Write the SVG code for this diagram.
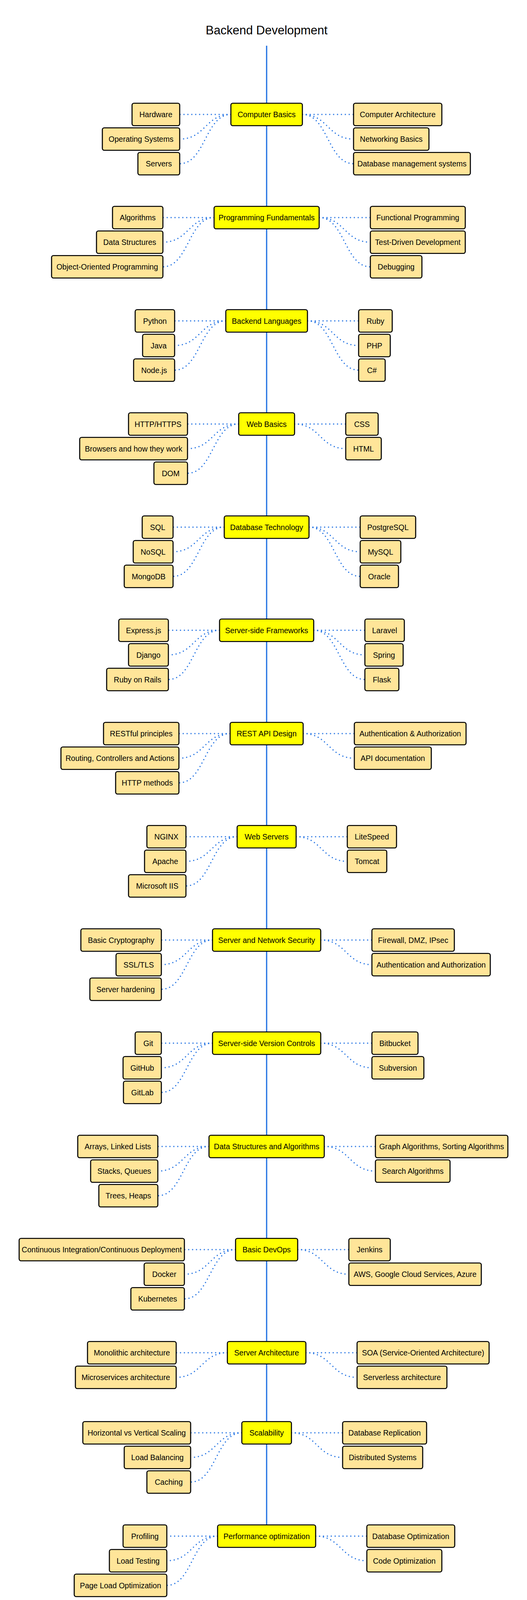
<svg xmlns="http://www.w3.org/2000/svg" width="1349" height="4130" viewBox="0 0 1349 4130">
<style>
text{font-family:"Liberation Sans",Arial,sans-serif;font-size:19.5px;fill:#000;text-anchor:middle}
.title{font-size:31px}
.m rect,.c rect{stroke:#000;stroke-width:2.7}
.m rect{fill:#ffff00}
.c rect{fill:#ffe599}
.bg{fill:#fff;stroke:none}
.dot{fill:none;stroke:#2b78e4;stroke-width:3.4;stroke-dasharray:0 10;stroke-linecap:round}
.spine{fill:none;stroke:#2b78e4;stroke-width:3.3}
</style>
<rect class="bg" width="1349" height="4130"/>
<text class="title" x="682.5" y="88">Backend Development</text>
<g id="connectors">
<path class="spine" d="M682.5 117V3904"/>
<!-- S1 -->
<path class="dot" d="M591 293H460"/>
<path class="dot" d="M591 293C525.5 293 525.5 356 460 356"/>
<path class="dot" d="M591 293C525.5 293 525.5 419 460 419"/>
<path class="dot" d="M774 293H905"/>
<path class="dot" d="M774 293C839.5 293 839.5 356 905 356"/>
<path class="dot" d="M774 293C839.5 293 839.5 419 905 419"/>
<!-- S2 -->
<path class="dot" d="M548 557H417"/>
<path class="dot" d="M548 557C482.5 557 482.5 620 417 620"/>
<path class="dot" d="M548 557C482.5 557 482.5 683 417 683"/>
<path class="dot" d="M817 557H948"/>
<path class="dot" d="M817 557C882.5 557 882.5 620 948 620"/>
<path class="dot" d="M817 557C882.5 557 882.5 683 948 683"/>
<!-- S3 -->
<path class="dot" d="M578 821.5H447"/>
<path class="dot" d="M578 821.5C512.5 821.5 512.5 884.5 447 884.5"/>
<path class="dot" d="M578 821.5C512.5 821.5 512.5 947.5 447 947.5"/>
<path class="dot" d="M787 821.5H918"/>
<path class="dot" d="M787 821.5C852.5 821.5 852.5 884.5 918 884.5"/>
<path class="dot" d="M787 821.5C852.5 821.5 852.5 947.5 918 947.5"/>
<!-- S4 -->
<path class="dot" d="M611 1085.5H480"/>
<path class="dot" d="M611 1085.5C545.5 1085.5 545.5 1148.5 480 1148.5"/>
<path class="dot" d="M611 1085.5C545.5 1085.5 545.5 1211.5 480 1211.5"/>
<path class="dot" d="M754 1085.5H885"/>
<path class="dot" d="M754 1085.5C819.5 1085.5 819.5 1148.5 885 1148.5"/>
<!-- S5 -->
<path class="dot" d="M574 1349.5H443"/>
<path class="dot" d="M574 1349.5C508.5 1349.5 508.5 1412.5 443 1412.5"/>
<path class="dot" d="M574 1349.5C508.5 1349.5 508.5 1475.5 443 1475.5"/>
<path class="dot" d="M791 1349.5H922"/>
<path class="dot" d="M791 1349.5C856.5 1349.5 856.5 1412.5 922 1412.5"/>
<path class="dot" d="M791 1349.5C856.5 1349.5 856.5 1475.5 922 1475.5"/>
<!-- S6 -->
<path class="dot" d="M562 1613.5H431"/>
<path class="dot" d="M562 1613.5C496.5 1613.5 496.5 1676.5 431 1676.5"/>
<path class="dot" d="M562 1613.5C496.5 1613.5 496.5 1739.5 431 1739.5"/>
<path class="dot" d="M803 1613.5H934"/>
<path class="dot" d="M803 1613.5C868.5 1613.5 868.5 1676.5 934 1676.5"/>
<path class="dot" d="M803 1613.5C868.5 1613.5 868.5 1739.5 934 1739.5"/>
<!-- S7 -->
<path class="dot" d="M589 1878H458"/>
<path class="dot" d="M589 1878C523.5 1878 523.5 1941 458 1941"/>
<path class="dot" d="M589 1878C523.5 1878 523.5 2004 458 2004"/>
<path class="dot" d="M776 1878H907"/>
<path class="dot" d="M776 1878C841.5 1878 841.5 1941 907 1941"/>
<!-- S8 -->
<path class="dot" d="M607 2142H476"/>
<path class="dot" d="M607 2142C541.5 2142 541.5 2205 476 2205"/>
<path class="dot" d="M607 2142C541.5 2142 541.5 2268 476 2268"/>
<path class="dot" d="M758 2142H889"/>
<path class="dot" d="M758 2142C823.5 2142 823.5 2205 889 2205"/>
<!-- S9 -->
<path class="dot" d="M544 2406.5H413"/>
<path class="dot" d="M544 2406.5C478.5 2406.5 478.5 2469.5 413 2469.5"/>
<path class="dot" d="M544 2406.5C478.5 2406.5 478.5 2532.5 413 2532.5"/>
<path class="dot" d="M821 2406.5H952"/>
<path class="dot" d="M821 2406.5C886.5 2406.5 886.5 2469.5 952 2469.5"/>
<!-- S10 -->
<path class="dot" d="M544 2670.5H413"/>
<path class="dot" d="M544 2670.5C478.5 2670.5 478.5 2733.5 413 2733.5"/>
<path class="dot" d="M544 2670.5C478.5 2670.5 478.5 2796.5 413 2796.5"/>
<path class="dot" d="M821 2670.5H952"/>
<path class="dot" d="M821 2670.5C886.5 2670.5 886.5 2733.5 952 2733.5"/>
<!-- S11 -->
<path class="dot" d="M535 2935H404"/>
<path class="dot" d="M535 2935C469.5 2935 469.5 2998 404 2998"/>
<path class="dot" d="M535 2935C469.5 2935 469.5 3061 404 3061"/>
<path class="dot" d="M830 2935H961"/>
<path class="dot" d="M830 2935C895.5 2935 895.5 2998 961 2998"/>
<!-- S12 -->
<path class="dot" d="M603 3199H472"/>
<path class="dot" d="M603 3199C537.5 3199 537.5 3262 472 3262"/>
<path class="dot" d="M603 3199C537.5 3199 537.5 3325 472 3325"/>
<path class="dot" d="M762 3199H893"/>
<path class="dot" d="M762 3199C827.5 3199 827.5 3262 893 3262"/>
<!-- S13 -->
<path class="dot" d="M582 3463H451"/>
<path class="dot" d="M582 3463C516.5 3463 516.5 3526 451 3526"/>
<path class="dot" d="M783 3463H914"/>
<path class="dot" d="M783 3463C848.5 3463 848.5 3526 914 3526"/>
<!-- S14 -->
<path class="dot" d="M619 3668H488"/>
<path class="dot" d="M619 3668C553.5 3668 553.5 3731 488 3731"/>
<path class="dot" d="M619 3668C553.5 3668 553.5 3794 488 3794"/>
<path class="dot" d="M746 3668H877"/>
<path class="dot" d="M746 3668C811.5 3668 811.5 3731 877 3731"/>
<!-- S15 -->
<path class="dot" d="M557 3932.5H427"/>
<path class="dot" d="M557 3932.5C492 3932.5 492 3995.5 427 3995.5"/>
<path class="dot" d="M557 3932.5C492 3932.5 492 4058.5 427 4058.5"/>
<path class="dot" d="M808 3932.5H939"/>
<path class="dot" d="M808 3932.5C873.5 3932.5 873.5 3995.5 939 3995.5"/>
</g>

<!-- Section 1 -->
<g id="computer-basics" class="m"><rect x="591" y="264.25" width="183" height="57.5" rx="5"/><text x="682.5" y="300">Computer Basics</text></g>
<g id="hardware" class="c"><rect x="338" y="264.25" width="122" height="57.5" rx="5"/><text x="399" y="300">Hardware</text></g>
<g id="operating-systems" class="c"><rect x="262" y="327.25" width="198" height="57.5" rx="5"/><text x="361" y="363">Operating Systems</text></g>
<g id="servers" class="c"><rect x="353" y="390.25" width="107" height="57.5" rx="5"/><text x="406.5" y="426">Servers</text></g>
<g id="computer-architecture" class="c"><rect x="905" y="264.25" width="226" height="57.5" rx="5"/><text x="1018" y="300">Computer Architecture</text></g>
<g id="networking-basics" class="c"><rect x="905" y="327.25" width="193" height="57.5" rx="5"/><text x="1001.5" y="363">Networking Basics</text></g>
<g id="database-management-systems" class="c"><rect x="905" y="390.25" width="299" height="57.5" rx="5"/><text x="1054.5" y="426">Database management systems</text></g>

<!-- Section 2 -->
<g id="programming-fundamentals" class="m"><rect x="548" y="528.25" width="269" height="57.5" rx="5"/><text x="682.5" y="564">Programming Fundamentals</text></g>
<g id="algorithms" class="c"><rect x="288" y="528.25" width="129" height="57.5" rx="5"/><text x="352.5" y="564">Algorithms</text></g>
<g id="data-structures" class="c"><rect x="247" y="591.25" width="170" height="57.5" rx="5"/><text x="332" y="627">Data Structures</text></g>
<g id="oop" class="c"><rect x="132" y="654.25" width="285" height="57.5" rx="5"/><text x="274.5" y="690">Object-Oriented Programming</text></g>
<g id="functional-programming" class="c"><rect x="948" y="528.25" width="243" height="57.5" rx="5"/><text x="1069.5" y="564">Functional Programming</text></g>
<g id="tdd" class="c"><rect x="948" y="591.25" width="243" height="57.5" rx="5"/><text x="1069.5" y="627">Test-Driven Development</text></g>
<g id="debugging" class="c"><rect x="948" y="654.25" width="132" height="57.5" rx="5"/><text x="1014" y="690">Debugging</text></g>

<!-- Section 3 -->
<g id="backend-languages" class="m"><rect x="578" y="792.75" width="209" height="57.5" rx="5"/><text x="682.5" y="828.5">Backend Languages</text></g>
<g id="python" class="c"><rect x="346" y="792.75" width="101" height="57.5" rx="5"/><text x="396.5" y="828.5">Python</text></g>
<g id="java" class="c"><rect x="365" y="855.75" width="82" height="57.5" rx="5"/><text x="406" y="891.5">Java</text></g>
<g id="nodejs" class="c"><rect x="342" y="918.75" width="105" height="57.5" rx="5"/><text x="394.5" y="954.5">Node.js</text></g>
<g id="ruby" class="c"><rect x="918" y="792.75" width="86" height="57.5" rx="5"/><text x="961" y="828.5">Ruby</text></g>
<g id="php" class="c"><rect x="918" y="855.75" width="81" height="57.5" rx="5"/><text x="958.5" y="891.5">PHP</text></g>
<g id="csharp" class="c"><rect x="918" y="918.75" width="68" height="57.5" rx="5"/><text x="952" y="954.5">C#</text></g>

<!-- Section 4 -->
<g id="web-basics" class="m"><rect x="611" y="1056.75" width="143" height="57.5" rx="5"/><text x="682.5" y="1092.5">Web Basics</text></g>
<g id="http-https" class="c"><rect x="329" y="1056.75" width="151" height="57.5" rx="5"/><text x="404.5" y="1092.5">HTTP/HTTPS</text></g>
<g id="browsers" class="c"><rect x="204" y="1119.75" width="276" height="57.5" rx="5"/><text x="342" y="1155.5">Browsers and how they work</text></g>
<g id="dom" class="c"><rect x="394" y="1182.75" width="86" height="57.5" rx="5"/><text x="437" y="1218.5">DOM</text></g>
<g id="css" class="c"><rect x="885" y="1056.75" width="83" height="57.5" rx="5"/><text x="926.5" y="1092.5">CSS</text></g>
<g id="html" class="c"><rect x="885" y="1119.75" width="91" height="57.5" rx="5"/><text x="930.5" y="1155.5">HTML</text></g>

<!-- Section 5 -->
<g id="database-technology" class="m"><rect x="574" y="1320.75" width="217" height="57.5" rx="5"/><text x="682.5" y="1356.5">Database Technology</text></g>
<g id="sql" class="c"><rect x="364" y="1320.75" width="79" height="57.5" rx="5"/><text x="403.5" y="1356.5">SQL</text></g>
<g id="nosql" class="c"><rect x="341" y="1383.75" width="102" height="57.5" rx="5"/><text x="392" y="1419.5">NoSQL</text></g>
<g id="mongodb" class="c"><rect x="318" y="1446.75" width="125" height="57.5" rx="5"/><text x="380.5" y="1482.5">MongoDB</text></g>
<g id="postgresql" class="c"><rect x="922" y="1320.75" width="142" height="57.5" rx="5"/><text x="993" y="1356.5">PostgreSQL</text></g>
<g id="mysql" class="c"><rect x="922" y="1383.75" width="104" height="57.5" rx="5"/><text x="974" y="1419.5">MySQL</text></g>
<g id="oracle" class="c"><rect x="922" y="1446.75" width="98" height="57.5" rx="5"/><text x="971" y="1482.5">Oracle</text></g>

<!-- Section 6 -->
<g id="server-side-frameworks" class="m"><rect x="562" y="1584.75" width="241" height="57.5" rx="5"/><text x="682.5" y="1620.5">Server-side Frameworks</text></g>
<g id="expressjs" class="c"><rect x="304" y="1584.75" width="127" height="57.5" rx="5"/><text x="367.5" y="1620.5">Express.js</text></g>
<g id="django" class="c"><rect x="329" y="1647.75" width="102" height="57.5" rx="5"/><text x="380" y="1683.5">Django</text></g>
<g id="ruby-on-rails" class="c"><rect x="273" y="1710.75" width="158" height="57.5" rx="5"/><text x="352" y="1746.5">Ruby on Rails</text></g>
<g id="laravel" class="c"><rect x="934" y="1584.75" width="101" height="57.5" rx="5"/><text x="984.5" y="1620.5">Laravel</text></g>
<g id="spring" class="c"><rect x="934" y="1647.75" width="98" height="57.5" rx="5"/><text x="983" y="1683.5">Spring</text></g>
<g id="flask" class="c"><rect x="934" y="1710.75" width="87" height="57.5" rx="5"/><text x="977.5" y="1746.5">Flask</text></g>

<!-- Section 7 -->
<g id="rest-api-design" class="m"><rect x="589" y="1849.25" width="187" height="57.5" rx="5"/><text x="682.5" y="1885">REST API Design</text></g>
<g id="restful-principles" class="c"><rect x="265" y="1849.25" width="193" height="57.5" rx="5"/><text x="361.5" y="1885">RESTful principles</text></g>
<g id="routing" class="c"><rect x="156" y="1912.25" width="302" height="57.5" rx="5"/><text x="307" y="1948">Routing, Controllers and Actions</text></g>
<g id="http-methods" class="c"><rect x="296" y="1975.25" width="162" height="57.5" rx="5"/><text x="377" y="2011">HTTP methods</text></g>
<g id="auth-and-auth" class="c"><rect x="907" y="1849.25" width="286" height="57.5" rx="5"/><text x="1050" y="1885">Authentication &amp; Authorization</text></g>
<g id="api-documentation" class="c"><rect x="907" y="1912.25" width="197" height="57.5" rx="5"/><text x="1005.5" y="1948">API documentation</text></g>

<!-- Section 8 -->
<g id="web-servers" class="m"><rect x="607" y="2113.25" width="151" height="57.5" rx="5"/><text x="682.5" y="2149">Web Servers</text></g>
<g id="nginx" class="c"><rect x="376" y="2113.25" width="100" height="57.5" rx="5"/><text x="426" y="2149">NGINX</text></g>
<g id="apache" class="c"><rect x="370" y="2176.25" width="106" height="57.5" rx="5"/><text x="423" y="2212">Apache</text></g>
<g id="microsoft-iis" class="c"><rect x="329" y="2239.25" width="147" height="57.5" rx="5"/><text x="402.5" y="2275">Microsoft IIS</text></g>
<g id="litespeed" class="c"><rect x="889" y="2113.25" width="126" height="57.5" rx="5"/><text x="952" y="2149">LiteSpeed</text></g>
<g id="tomcat" class="c"><rect x="889" y="2176.25" width="101" height="57.5" rx="5"/><text x="939.5" y="2212">Tomcat</text></g>

<!-- Section 9 -->
<g id="server-network-security" class="m"><rect x="544" y="2377.75" width="277" height="57.5" rx="5"/><text x="682.5" y="2413.5">Server and Network Security</text></g>
<g id="basic-cryptography" class="c"><rect x="207" y="2377.75" width="206" height="57.5" rx="5"/><text x="310" y="2413.5">Basic Cryptography</text></g>
<g id="ssl-tls" class="c"><rect x="297" y="2440.75" width="116" height="57.5" rx="5"/><text x="355" y="2476.5">SSL/TLS</text></g>
<g id="server-hardening" class="c"><rect x="230" y="2503.75" width="183" height="57.5" rx="5"/><text x="321.5" y="2539.5">Server hardening</text></g>
<g id="firewall" class="c"><rect x="952" y="2377.75" width="211" height="57.5" rx="5"/><text x="1057.5" y="2413.5">Firewall, DMZ, IPsec</text></g>
<g id="authentication-authorization" class="c"><rect x="952" y="2440.75" width="303" height="57.5" rx="5"/><text x="1103.5" y="2476.5">Authentication and Authorization</text></g>

<!-- Section 10 -->
<g id="server-side-version-controls" class="m"><rect x="544" y="2641.75" width="277" height="57.5" rx="5"/><text x="682.5" y="2677.5">Server-side Version Controls</text></g>
<g id="git" class="c"><rect x="346" y="2641.75" width="67" height="57.5" rx="5"/><text x="379.5" y="2677.5">Git</text></g>
<g id="github" class="c"><rect x="315" y="2704.75" width="98" height="57.5" rx="5"/><text x="364" y="2740.5">GitHub</text></g>
<g id="gitlab" class="c"><rect x="316" y="2767.75" width="97" height="57.5" rx="5"/><text x="364.5" y="2803.5">GitLab</text></g>
<g id="bitbucket" class="c"><rect x="952" y="2641.75" width="118" height="57.5" rx="5"/><text x="1011" y="2677.5">Bitbucket</text></g>
<g id="subversion" class="c"><rect x="952" y="2704.75" width="133" height="57.5" rx="5"/><text x="1018.5" y="2740.5">Subversion</text></g>

<!-- Section 11 -->
<g id="dsa" class="m"><rect x="535" y="2906.25" width="295" height="57.5" rx="5"/><text x="682.5" y="2942">Data Structures and Algorithms</text></g>
<g id="arrays-linked-lists" class="c"><rect x="199" y="2906.25" width="205" height="57.5" rx="5"/><text x="301.5" y="2942">Arrays, Linked Lists</text></g>
<g id="stacks-queues" class="c"><rect x="232" y="2969.25" width="172" height="57.5" rx="5"/><text x="318" y="3005">Stacks, Queues</text></g>
<g id="trees-heaps" class="c"><rect x="253" y="3032.25" width="151" height="57.5" rx="5"/><text x="328.5" y="3068">Trees, Heaps</text></g>
<g id="graph-sorting" class="c"><rect x="961" y="2906.25" width="339" height="57.5" rx="5"/><text x="1130.5" y="2942">Graph Algorithms, Sorting Algorithms</text></g>
<g id="search-algorithms" class="c"><rect x="961" y="2969.25" width="191" height="57.5" rx="5"/><text x="1056.5" y="3005">Search Algorithms</text></g>

<!-- Section 12 -->
<g id="basic-devops" class="m"><rect x="603" y="3170.25" width="159" height="57.5" rx="5"/><text x="682.5" y="3206">Basic DevOps</text></g>
<g id="ci-cd" class="c"><rect x="49" y="3170.25" width="423" height="57.5" rx="5"/><text x="260.5" y="3206">Continuous Integration/Continuous Deployment</text></g>
<g id="docker" class="c"><rect x="369" y="3233.25" width="103" height="57.5" rx="5"/><text x="420.5" y="3269">Docker</text></g>
<g id="kubernetes" class="c"><rect x="335" y="3296.25" width="137" height="57.5" rx="5"/><text x="403.5" y="3332">Kubernetes</text></g>
<g id="jenkins" class="c"><rect x="893" y="3170.25" width="106" height="57.5" rx="5"/><text x="946" y="3206">Jenkins</text></g>
<g id="cloud" class="c"><rect x="893" y="3233.25" width="339" height="57.5" rx="5"/><text x="1062.5" y="3269">AWS, Google Cloud Services, Azure</text></g>

<!-- Section 13 -->
<g id="server-architecture" class="m"><rect x="582" y="3434.25" width="201" height="57.5" rx="5"/><text x="682.5" y="3470">Server Architecture</text></g>
<g id="monolithic" class="c"><rect x="224" y="3434.25" width="227" height="57.5" rx="5"/><text x="337.5" y="3470">Monolithic architecture</text></g>
<g id="microservices" class="c"><rect x="193" y="3497.25" width="258" height="57.5" rx="5"/><text x="322" y="3533">Microservices architecture</text></g>
<g id="soa" class="c"><rect x="914" y="3434.25" width="338" height="57.5" rx="5"/><text x="1083" y="3470">SOA (Service-Oriented Architecture)</text></g>
<g id="serverless" class="c"><rect x="914" y="3497.25" width="230" height="57.5" rx="5"/><text x="1029" y="3533">Serverless architecture</text></g>

<!-- Section 14 -->
<g id="scalability" class="m"><rect x="619" y="3639.25" width="127" height="57.5" rx="5"/><text x="682.5" y="3675">Scalability</text></g>
<g id="horizontal-vertical" class="c"><rect x="212" y="3639.25" width="276" height="57.5" rx="5"/><text x="350" y="3675">Horizontal vs Vertical Scaling</text></g>
<g id="load-balancing" class="c"><rect x="318" y="3702.25" width="170" height="57.5" rx="5"/><text x="403" y="3738">Load Balancing</text></g>
<g id="caching" class="c"><rect x="376" y="3765.25" width="112" height="57.5" rx="5"/><text x="432" y="3801">Caching</text></g>
<g id="database-replication" class="c"><rect x="877" y="3639.25" width="215" height="57.5" rx="5"/><text x="984.5" y="3675">Database Replication</text></g>
<g id="distributed-systems" class="c"><rect x="877" y="3702.25" width="205" height="57.5" rx="5"/><text x="979.5" y="3738">Distributed Systems</text></g>

<!-- Section 15 -->
<g id="performance-optimization" class="m"><rect x="557" y="3903.75" width="251" height="57.5" rx="5"/><text x="682.5" y="3939.5">Performance optimization</text></g>
<g id="profiling" class="c"><rect x="315" y="3903.75" width="112" height="57.5" rx="5"/><text x="371" y="3939.5">Profiling</text></g>
<g id="load-testing" class="c"><rect x="280" y="3966.75" width="147" height="57.5" rx="5"/><text x="353.5" y="4002.5">Load Testing</text></g>
<g id="page-load-optimization" class="c"><rect x="190" y="4029.75" width="237" height="57.5" rx="5"/><text x="308.5" y="4065.5">Page Load Optimization</text></g>
<g id="database-optimization" class="c"><rect x="939" y="3903.75" width="225" height="57.5" rx="5"/><text x="1051.5" y="3939.5">Database Optimization</text></g>
<g id="code-optimization" class="c"><rect x="939" y="3966.75" width="192" height="57.5" rx="5"/><text x="1035" y="4002.5">Code Optimization</text></g>
</svg>
